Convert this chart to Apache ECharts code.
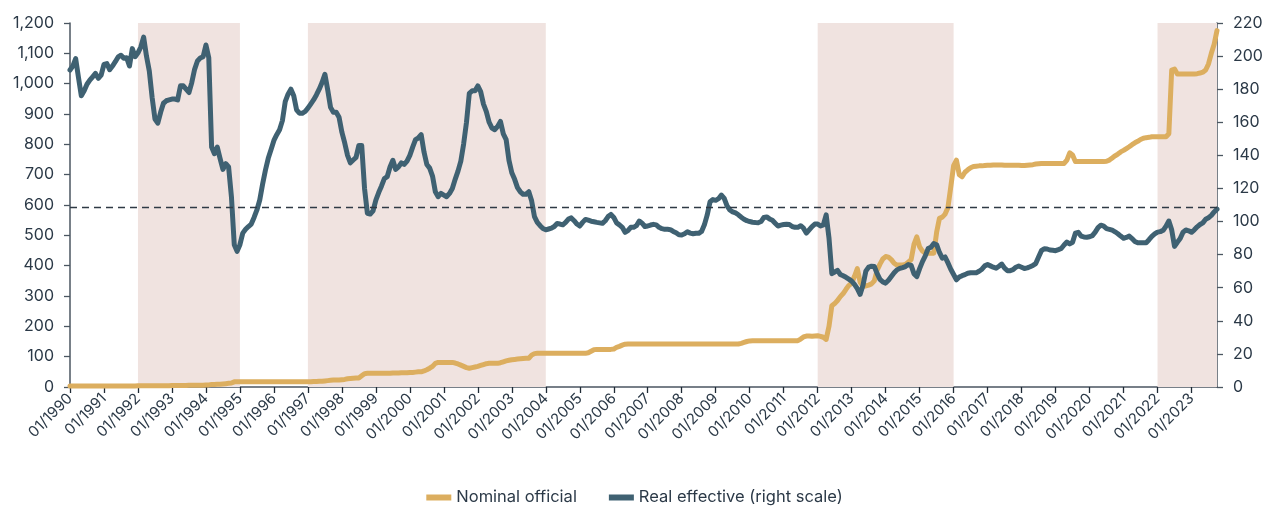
<!DOCTYPE html>
<html>
<head>
<meta charset="utf-8">
<script src="https://cdn.jsdelivr.net/npm/echarts@6/dist/echarts.min.js"></script>
<style>
html,body{margin:0;padding:0;background:#fff;}
#chart{width:1269px;height:508px;}
</style>
</head>
<body>
<div id="chart"></div>
<script>
// ---- DATA ----
const startYear = 1990;
const seriesNames = ['Nominal official', 'Real effective (right scale)'];

// Nominal official exchange rate (left scale), monthly from 01/1990
const nominal1990s = [
  3,3,3,3,3,3,3,3,3,3,3,3,
  3.5,3.5,3.5,3.5,3.5,3.5,3.5,3.5,3.5,3.5,3.5,3.5,
  4,4,4,4,4,4,4,4,4,4,4,4,
  5,5,5,5,5,5,6,6,6,6,6,6,
  7,7,8,8,9,9,10,11,12,13,17,17,
  17,17,17,17,17,17,17,17,17,17,17,17,
  17,17,17,17,17,17,17,17,17,17,17,17,
  17,17,18,18,19,19,20,21,22,23,23,23,
  24,25,27,28,29,29.5,30,37,44,45,45,45,
  45,45,45,45,45,45,46,46,46,47,47,47
];
const nominal2000s = [
  48,48,49,50,50,53,57,62,68,78,81,81,
  81,81,81,81,79,76,72,68,64,62,64,66,
  68,71,74,77,78,78,78,78,80,83,86,88,
  90,91,92,93,94,94.5,95,105,110,111,111,111,
  111,111,111,111,111,111,111,111,111,111,111,111,
  111,111,111,113,118,123,124,124,124,124,124,124,
  125,131,134,138,141,141.8,141.8,141.8,141.8,141.8,141.8,141.8,
  141.8,141.8,141.8,141.8,141.8,141.8,141.8,141.8,141.8,141.8,141.8,141.8,
  141.8,141.8,141.8,141.8,141.8,141.8,141.8,141.8,141.8,141.8,141.8,141.8,
  141.8,141.8,141.8,141.8,141.8,141.8,141.8,141.8,141.8,144,147,150
];
const nominal2010s = [
  152,152.7,152.7,152.7,152.7,152.7,152.7,152.7,152.7,152.7,152.7,152.7,
  152.7,152.7,152.7,152.7,152.7,152.7,158,165,168,168,167,168,
  169,167,164,157,200,268,275,285,298,308,322,335,
  342,365,390,345,332,333,336,340,350,385,405,422,
  430,428,420,408,402,402,402,404,412,420,470,495,
  462,448,441,441,441,441,510,556,560,570,592,660,
  730,748,700,693,708,716,723,727,728,729,729,730,
  731,731,732,732,732,732,731,731,731,731,731,731,
  730,730,731,732,733,735,736,737,737,737,737,737,
  737,737,737,737,748,772,765,743,743,743,743,743
];
const nominal2020s = [
  743,743,743,743,743,743,744,748,755,762,768,775,
  780,786,792,799,805,810,816,820,822,823,825,825,
  825,825,825,825,835,1045,1048,1032,1032,1032,1032,1032,
  1032,1032,1033,1035,1038,1045,1065,1100,1130,1175
];

// Real effective exchange rate index (right scale), monthly from 01/1990
const real1990s = [
  191.6,194,198.5,187,176,179,183,185.5,187.5,189.5,186.6,188.5,
  195,195.5,191.8,194,196.6,199.5,200.5,198.7,199,194,204.5,199.6,
  202,205.5,211.5,200,191,175,162,159.5,166,171.5,173,173.5,
  174,174,173.5,182,182,180,178,184,192,197,198.8,199.6,
  206.7,199,145,141,145,138,131.5,135,133,115,86,82,
  86,93,95.3,97,98.5,102.5,107,113,122.5,131,138.2,143.5,
  149,152.5,155.5,161,172.5,177,180,176,167.5,165.5,165.4,166.5,
  168.5,171,173.5,176.5,180,184,189,179.5,169,166,166,163,
  154,147.5,140,135.5,137.2,138.8,146,146,120,105,104.5,106.5,
  113,117.5,121.5,126,127.1,133,137,131.5,133,135.5,134.5,136.5
];
const real2000s = [
  140,145,149.5,150.5,152.5,142,134.5,132.3,127.5,118,115,117,
  116,115,117,120,125.5,130.5,136.5,147,160,177.5,179,179,
  182,178.5,171,166.5,160,156.5,155.5,157.5,160.5,153,149.5,137,
  129.5,125.5,120.5,118,116.5,116.5,118,112.5,103,99.5,97.5,95.8,
  95,95.5,96,97,98.8,98.5,98,99.5,101.5,102.2,100.5,98.5,
  97.3,99.5,101.3,100.8,100.2,99.9,99.5,99.2,98.9,100.5,103,104.3,
  102.5,99.2,98,96.5,93.5,94.5,96.5,96.5,97.5,100.3,99,97,
  97.3,97.9,98.3,98,96.5,95.7,95.3,95.3,95.1,94,93.2,92,
  91.9,92.6,93.8,93,92.6,92.9,92.9,94,98,104,112,113.3,
  112.8,113.8,116,114,109.5,107,105.8,105.2,104.1,102.6,101.4,100.5
];
const real2010s = [
  100,99.6,99.4,99.3,100,102.5,102.8,101.6,100.8,99,97.3,97.8,
  98.2,98.4,98.2,97,96.5,96.5,97.5,96,93,95,97,98.5,
  98.5,97.3,98,104,90,68.5,69.5,70.5,68,67.2,66.3,65.2,
  64,62,59.5,56,61.5,70,72.5,73,72.8,68.5,65,63.5,
  62.8,64.5,66.8,69,70.8,71.7,72.2,72.8,74,73.5,68.5,66.7,
  71.5,75.8,79.2,83.7,84.5,86.7,86,81.3,77.9,78.6,75,71.2,
  68,64.8,66.5,67.3,67.9,68.8,69.1,69.1,69.1,70,71.2,73.2,
  74,73.2,72.4,71.8,73,74.3,71.8,70.3,70.3,70.9,72.4,73.1,
  72.4,71.6,72,72.7,73.5,74.6,78.5,82.4,83.6,83.4,82.8,82.6,
  82.4,83,83.7,85.8,87.6,86.5,87.5,93,93.5,91.2,90.7,90.5
];
const real2020s = [
  90.8,91.5,93.6,96.3,97.8,97.2,95.7,95.3,94.8,93.8,92.6,91.2,
  89.9,90.4,91.2,89.7,88,87.2,87.2,87.2,87.2,89,91,92.5,
  93.6,93.9,94.7,97.2,100.3,95,85,87.5,89.7,93.6,94.9,94.4,
  93.5,95,96.8,98.2,99.2,101.4,102.3,103.7,105.8,107.5
];

// Shaded periods [start, end]
const shadedPeriods = [
  ['01/1992','01/1995'],
  ['01/1997','01/2004'],
  ['01/2012','01/2016'],
  ['01/2022','10/2023']
];
// Dashed reference level (right scale)
const referenceLevel = 108.8;

// Axis ticks
const leftTicks = {min:0, max:1200, interval:100};
const rightTicks = {min:0, max:220, interval:20};

// ---- BUILD ----
const nominal = [].concat(nominal1990s, nominal2000s, nominal2010s, nominal2020s);
const real = [].concat(real1990s, real2000s, real2010s, real2020s);
const categories = [];
for (let i = 0; i < real.length; i++) {
  const y = startYear + Math.floor(i / 12);
  const m = (i % 12) + 1;
  categories.push((m < 10 ? '0' + m : '' + m) + '/' + y);
}

const textColor = '#2b3947';
const axisColor = '#4b5661';
const gold = '#dcae5f';
const teal = '#3f6172';
const fontFamily = 'Inter, "Noto Sans", sans-serif';

const chart = echarts.init(document.getElementById('chart'), null, {renderer:'canvas'});
chart.setOption({
  animation: false,
  textStyle: {fontFamily: fontFamily},
  grid: {left: 70, right: 52, top: 23, bottom: 121, containLabel: false},
  legend: {
    top: 484,
    left: 'center',
    itemWidth: 25,
    itemHeight: 6,
    itemGap: 32,
    textStyle: {color: textColor, fontSize: 16.5, fontFamily: fontFamily},
    data: [
      {name: seriesNames[0], icon: 'rect'},
      {name: seriesNames[1], icon: 'rect'}
    ]
  },
  xAxis: {
    type: 'category',
    data: categories,
    boundaryGap: false,
    axisLine: {lineStyle: {color: axisColor, width: 1.5}},
    axisTick: {
      alignWithLabel: true,
      length: 6,
      interval: function (idx) { return idx % 12 === 0; },
      lineStyle: {color: '#1f2a35', width: 1.3}
    },
    axisLabel: {
      interval: function (idx) { return idx % 12 === 0; },
      rotate: 45,
      margin: 9,
      color: textColor,
      fontSize: 15,
      fontFamily: fontFamily
    },
    splitLine: {show: false}
  },
  yAxis: [
    {
      type: 'value',
      min: leftTicks.min, max: leftTicks.max, interval: leftTicks.interval,
      axisLine: {show: true, lineStyle: {color: axisColor, width: 1.5}},
      axisTick: {show: true, length: 6, lineStyle: {color: axisColor, width: 1.3}},
      axisLabel: {
        color: textColor, fontSize: 16, margin: 16, fontFamily: fontFamily,
        formatter: function (v) { return v.toLocaleString('en-US'); }
      },
      splitLine: {show: false}
    },
    {
      type: 'value',
      position: 'right',
      min: rightTicks.min, max: rightTicks.max, interval: rightTicks.interval,
      axisLine: {show: true, lineStyle: {color: axisColor, width: 1.5}},
      axisTick: {show: true, length: 6, lineStyle: {color: axisColor, width: 1.3}},
      axisLabel: {color: textColor, fontSize: 16, margin: 16, fontFamily: fontFamily},
      splitLine: {show: false}
    }
  ],
  series: [
    {
      name: 'shading',
      type: 'line',
      data: [],
      z: 1,
      silent: true,
      markArea: {
        silent: true,
        itemStyle: {color: '#f0e3e0'},
        data: shadedPeriods.map(function (p) { return [{xAxis: p[0]}, {xAxis: p[1]}]; })
      }
    },
    {
      name: seriesNames[0],
      type: 'line',
      data: nominal,
      yAxisIndex: 0,
      showSymbol: false,
      symbol: 'none',
      z: 3,
      lineStyle: {color: gold, width: 5, join: 'round', cap: 'round'},
      itemStyle: {color: gold}
    },
    {
      name: seriesNames[1],
      type: 'line',
      data: real,
      yAxisIndex: 1,
      showSymbol: false,
      symbol: 'none',
      z: 4,
      lineStyle: {color: teal, width: 5, join: 'round', cap: 'round'},
      itemStyle: {color: teal},
      markLine: {
        silent: true,
        symbol: ['none', 'none'],
        label: {show: false},
        lineStyle: {color: '#2f3a45', width: 1.3, type: [7, 5]},
        data: [{yAxis: referenceLevel}]
      }
    }
  ]
});
</script>
</body>
</html>
